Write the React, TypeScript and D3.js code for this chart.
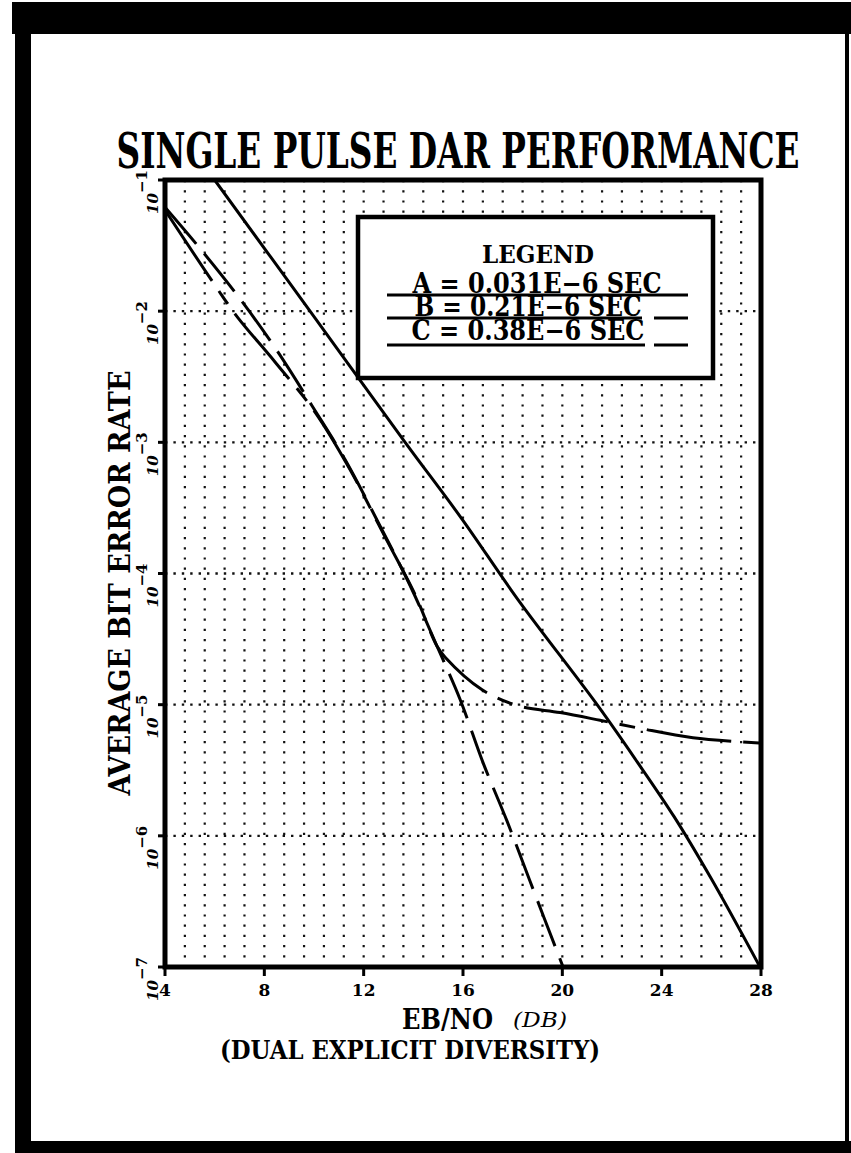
import React from "react";
import * as d3 from "d3";

// ---------- data ----------
const xTickValues = [4, 8, 12, 16, 20, 24, 28];
const xTickLabels = ["4", "8", "12", "16", "20", "24", "28"];
const yDecadeExponents = [-1, -2, -3, -4, -5, -6, -7];

// Series A = 0.031E-6 SEC (solid)
const seriesA_db = [6.0, 9.84, 13.67, 15.96, 18.22, 21.4, 23.0, 24.5, 26.0, 27.96];
const seriesA_ber = [1.0e-1, 1.0e-2, 1.0e-3, 2.6e-4, 6.3e-5, 1.0e-5, 3.7e-6, 1.4e-6, 4.7e-7, 1.0e-7];

// Series B = 0.21E-6 SEC (dashed, steep)
const seriesB_db = [4.0, 5.29, 6.94, 8.51, 9.92, 11.25, 12.66, 13.87, 14.95, 15.88, 16.81, 17.77, 18.7, 20.03];
const seriesB_ber = [6.2e-2, 3.2e-2, 1.3e-2, 5.0e-3, 1.9e-3, 7.4e-4, 2.3e-4, 8.1e-5, 2.8e-5, 1.1e-5, 3.6e-6, 1.3e-6, 4.5e-7, 1.0e-7];

// Series C = 0.38E-6 SEC (long-short dashed, error floor)
const seriesC_db = [4.0, 6.09, 6.94, 8.43, 10.04, 11.45, 12.86, 14.07, 14.95, 15.28, 16.77, 18.22, 19.91, 21.52, 23.13, 25.26, 27.96];
const seriesC_ber = [5.9e-2, 1.5e-2, 8.9e-3, 4.1e-3, 1.7e-3, 6.2e-4, 1.9e-4, 6.9e-5, 2.8e-5, 2.3e-5, 1.3e-5, 9.8e-6, 8.7e-6, 7.6e-6, 6.6e-6, 5.6e-6, 5.1e-6];

const legendTitle = "LEGEND";
const legendLabels = ["A = 0.031E\u22126 SEC", "B = 0.21E\u22126 SEC", "C = 0.38E\u22126 SEC"];

const titleText = "SINGLE PULSE DAR PERFORMANCE";
const yAxisTitle = "AVERAGE BIT ERROR RATE";
const xAxisTitle = "EB/NO";
const xAxisUnit = "(DB)";
const xAxisSubtitle = "(DUAL EXPLICIT DIVERSITY)";

// ---------- layout ----------
const W = 851;
const H = 1153;
const plot = { left: 165, right: 761, top: 180, bottom: 967 };
const serif = "'DejaVu Serif', 'Liberation Serif', serif";

export default function App() {
  const x = d3.scaleLinear().domain([4, 28]).range([plot.left, plot.right]);
  const y = d3.scaleLog().domain([1e-7, 1e-1]).range([plot.bottom, plot.top]);

  const gridX = d3.range(1, 30).map((k) => 4 + 0.8 * k);

  const line = d3
    .line<[number, number]>()
    .x((d) => x(d[0]))
    .y((d) => y(d[1]))
    .curve(d3.curveCatmullRom.alpha(0.5));

  const zip = (a: number[], b: number[]) => a.map((v, i) => [v, b[i]] as [number, number]);

  const series = [
    { data: zip(seriesA_db, seriesA_ber), dash: "none" },
    { data: zip(seriesB_db, seriesB_ber), dash: "48 13" },
    { data: zip(seriesC_db, seriesC_ber), dash: "85 12 16 12" },
  ];

  const legendLineY = [295, 318, 345];

  return (
    <svg width={W} height={H} style={{ display: "block", position: "absolute", left: 0, top: 0 }}>
      <defs>
        <clipPath id="plotclip">
          <rect x={plot.left} y={plot.top} width={plot.right - plot.left} height={plot.bottom - plot.top} />
        </clipPath>
      </defs>
      <rect x={0} y={0} width={W} height={H} fill="#fff" />
      {/* outer frame */}
      <rect x={12} y={2} width={W - 12} height={32} fill="#000" />
      <rect x={15} y={2} width={16} height={H - 2} fill="#000" />
      <rect x={15} y={1141} width={W - 15} height={12} fill="#000" />
      <rect x={845} y={2} width={4} height={H - 2} fill="#000" />

      {/* title */}
      <g transform="translate(458, 168) scale(1, 1.45)">
        <text
          x={0}
          y={0}
          textAnchor="middle"
          fontFamily={serif}
          fontWeight="bold"
          fontSize={33}
          textLength={683}
          lengthAdjust="spacingAndGlyphs"
        >
          {titleText}
        </text>
      </g>

      {/* grid */}
      <g clipPath="url(#plotclip)">
        {gridX.map((g) => (
          <line
            key={"gx" + g}
            x1={x(g)}
            x2={x(g)}
            y1={plot.top}
            y2={plot.bottom}
            stroke="#111"
            strokeWidth={2.2}
            strokeDasharray="2.2 8"
          />
        ))}
        {yDecadeExponents.slice(1, -1).map((e) => (
          <line
            key={"gy" + e}
            x1={plot.left}
            x2={plot.right}
            y1={y(Math.pow(10, e))}
            y2={y(Math.pow(10, e))}
            stroke="#111"
            strokeWidth={2.4}
            strokeDasharray="2.4 6"
          />
        ))}
      </g>

      {/* curves */}
      <g clipPath="url(#plotclip)">
        {series.map((s, i) => (
          <path
            key={"s" + i}
            d={line(s.data) || ""}
            fill="none"
            stroke="#000"
            strokeWidth={3}
            strokeDasharray={s.dash}
          />
        ))}
      </g>

      {/* legend */}
      <rect x={358} y={217} width={355} height={161} fill="#fff" stroke="#000" strokeWidth={4.5} />
      <text x={538} y={263} textAnchor="middle" fontFamily={serif} fontWeight="bold" fontSize={24} textLength={112} lengthAdjust="spacingAndGlyphs">
        {legendTitle}
      </text>
      {legendLabels.map((t, i) => (
        <text
          key={"lt" + i}
          x={[537, 528, 528][i]}
          y={[293, 316, 340][i]}
          textAnchor="middle"
          fontFamily={serif}
          fontWeight="bold"
          fontSize={27}
          textLength={[249, 227, 233][i]}
          lengthAdjust="spacingAndGlyphs"
        >
          {t}
        </text>
      ))}
      {series.map((s, i) => (
        <line
          key={"ll" + i}
          x1={387}
          x2={688}
          y1={legendLineY[i]}
          y2={legendLineY[i]}
          stroke="#000"
          strokeWidth={3}
          strokeDasharray={i === 0 ? "none" : i === 1 ? "255 12 34" : "258 9 34"}
        />
      ))}

      {/* axes frame */}
      <rect
        x={plot.left}
        y={plot.top}
        width={plot.right - plot.left}
        height={plot.bottom - plot.top}
        fill="none"
        stroke="#000"
        strokeWidth={5}
      />

      {/* x ticks */}
      {xTickValues.map((v, i) => (
        <g key={"xt" + v}>
          <line x1={x(v)} x2={x(v)} y1={plot.bottom} y2={plot.bottom + 9} stroke="#000" strokeWidth={3} />
          <text x={x(v)} y={996} textAnchor="middle" fontFamily={serif} fontWeight="bold" fontSize={17}>
            {xTickLabels[i]}
          </text>
        </g>
      ))}

      {/* y ticks */}
      {yDecadeExponents.map((e) => {
        const yy = y(Math.pow(10, e));
        return (
          <g key={"yt" + e}>
            <line x1={plot.left - 7} x2={plot.left} y1={yy} y2={yy} stroke="#000" strokeWidth={3} />
            <text
              transform={`translate(158, ${yy - 10}) rotate(-90)`}
              textAnchor="end"
              fontFamily={serif}
              fontWeight="bold"
              fontSize={15}
            >
              <tspan fontStyle="italic">10</tspan>
              <tspan dy={-11}>{"\u2212" + Math.abs(e)}</tspan>
            </text>
          </g>
        );
      })}

      {/* y axis title */}
      <text
        transform={`translate(130, 583) rotate(-90)`}
        textAnchor="middle"
        fontFamily={serif}
        fontWeight="bold"
        fontSize={29}
        textLength={425}
        lengthAdjust="spacingAndGlyphs"
      >
        {yAxisTitle}
      </text>

      {/* x axis title */}
      <text x={402} y={1029} fontFamily={serif} fontWeight="bold" fontSize={27} textLength={91} lengthAdjust="spacingAndGlyphs">
        {xAxisTitle}
      </text>
      <text x={513} y={1027} fontFamily={serif} fontStyle="italic" fontSize={20} textLength={54} lengthAdjust="spacingAndGlyphs">
        {xAxisUnit}
      </text>
      <text x={410} y={1059} textAnchor="middle" fontFamily={serif} fontWeight="bold" fontSize={26} textLength={380} lengthAdjust="spacingAndGlyphs">
        {xAxisSubtitle}
      </text>
    </svg>
  );
}
